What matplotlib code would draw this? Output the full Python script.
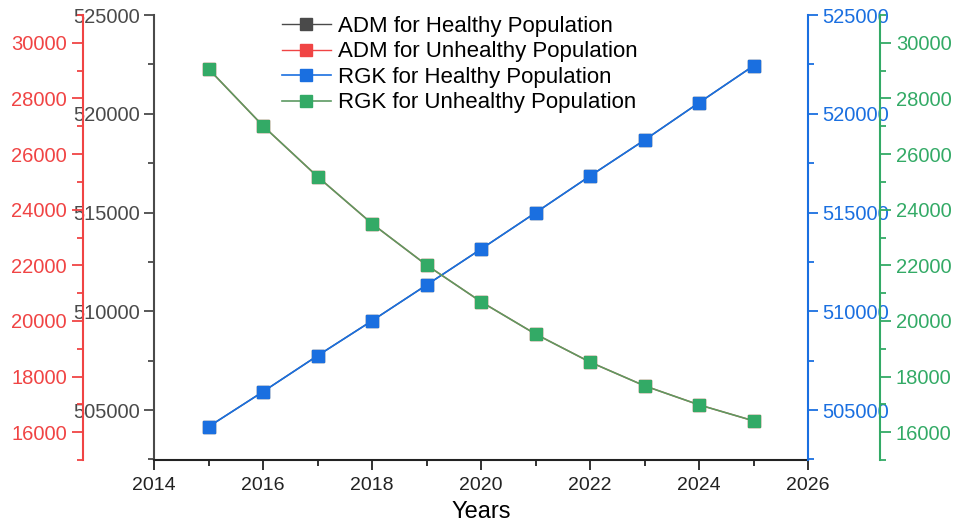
import matplotlib
matplotlib.use('Agg')
import matplotlib.pyplot as plt
from matplotlib.ticker import MultipleLocator

plt.rcParams['font.family'] = ['Liberation Sans', 'DejaVu Sans']

years = [2015, 2016, 2017, 2018, 2019, 2020, 2021, 2022, 2023, 2024, 2025]

# healthy population (ADM and RGK give the same curve)
adm_healthy = [504155, 505930, 507750, 509520, 511330, 513150, 514990, 516850, 518670, 520560, 522430]
rgk_healthy = [504155, 505930, 507750, 509520, 511330, 513150, 514990, 516850, 518670, 520560, 522430]

# unhealthy population
adm_unhealthy = [29064, 27013, 25189, 23498, 22011, 20691, 19529, 18521, 17668, 16984, 16409]
rgk_unhealthy = [29064, 27013, 25189, 23498, 22011, 20691, 19529, 18521, 17668, 16984, 16409]

c_black = '#4a4a4a'
c_red = '#f04444'
c_blue = '#1a6fe0'
c_green = '#33aa66'

fig = plt.figure(figsize=(9.55, 5.27), dpi=100)
ax = fig.add_axes([0.1613, 0.1271, 0.6848, 0.8444])
ax_red = ax.twinx()
ax_blue = ax.twinx()
ax_green = ax.twinx()

l1, = ax.plot(years, adm_healthy, color=c_black, lw=1, marker='s', ms=8,
              label='ADM for Healthy Population')
l2, = ax_red.plot(years, adm_unhealthy, color=c_red, lw=1, marker='s', ms=8,
                  label='ADM for Unhealthy Population')
l3, = ax_blue.plot(years, rgk_healthy, color=c_blue, lw=1.2, marker='s', ms=8,
                   label='RGK for Healthy Population')
l4, = ax_green.plot(years, rgk_unhealthy, color='#5c9a62', lw=1.2, marker='s', ms=8,
                    mfc=c_green, mec=c_green, label='RGK for Unhealthy Population')

ax.set_xlim(2014, 2026)
ax.xaxis.set_major_locator(MultipleLocator(2))
ax.xaxis.set_minor_locator(MultipleLocator(1))
ax.set_xlabel('Years', fontsize=17, labelpad=5)

ax.set_ylim(502470, 525000)
ax_blue.set_ylim(502470, 525000)
ax_red.set_ylim(15000, 31000)
ax_green.set_ylim(15000, 31000)

for a in (ax, ax_blue):
    a.yaxis.set_major_locator(MultipleLocator(5000))
    a.yaxis.set_minor_locator(MultipleLocator(2500))
for a in (ax_red, ax_green):
    a.yaxis.set_major_locator(MultipleLocator(2000))
    a.yaxis.set_minor_locator(MultipleLocator(1000))

# left side axes
ax_red.yaxis.set_ticks_position('left')
ax_red.yaxis.set_label_position('left')
ax_red.spines['left'].set_position(('axes', -0.1086))
ax_red.spines['left'].set_visible(True)
for s in ('right', 'top', 'bottom'):
    ax_red.spines[s].set_visible(False)

ax_green.spines['right'].set_position(('axes', 1.110))
for s in ('left', 'top', 'bottom'):
    ax_green.spines[s].set_visible(False)
for s in ('left', 'top', 'bottom'):
    ax_blue.spines[s].set_visible(False)
ax.spines['top'].set_visible(False)
ax.spines['right'].set_visible(False)

ax.spines['left'].set_color(c_black)
ax.spines['bottom'].set_color('#222222')
ax_red.spines['left'].set_color(c_red)
ax_blue.spines['right'].set_color(c_blue)
ax_green.spines['right'].set_color(c_green)
for a in (ax, ax_red, ax_blue, ax_green):
    for s in a.spines.values():
        s.set_linewidth(1.5)

ax.tick_params(axis='y', which='major', colors=c_black, labelsize=14.5, length=7, width=1.3, pad=3)
ax.tick_params(axis='y', which='minor', colors=c_black, length=4, width=1.3)
ax.tick_params(axis='x', which='major', colors='#222222', labelsize=14, length=7, width=1.3, pad=5)
ax.tick_params(axis='x', which='minor', colors='#222222', length=4, width=1.3)
ax_red.tick_params(axis='y', which='major', colors=c_red, labelsize=14.5, length=8, width=1.3)
ax_red.tick_params(axis='y', which='minor', colors=c_red, length=4, width=1.3)
ax_blue.tick_params(axis='y', which='major', colors=c_blue, labelsize=14.5, length=7, width=1.3)
ax_blue.tick_params(axis='y', which='minor', colors=c_blue, length=4, width=1.3)
ax_green.tick_params(axis='y', which='major', colors=c_green, labelsize=14.5, length=8, width=1.3)
ax_green.tick_params(axis='y', which='minor', colors=c_green, length=4, width=1.3)

ax.legend(handles=[l1, l2, l3, l4], loc='upper left', bbox_to_anchor=(0.281, 0.995),
          bbox_transform=fig.transFigure, frameon=False, fontsize=16,
          handlelength=2.2, labelspacing=0.2, handletextpad=0.35, borderaxespad=0.2)

fig.savefig('out.png', dpi=100)
